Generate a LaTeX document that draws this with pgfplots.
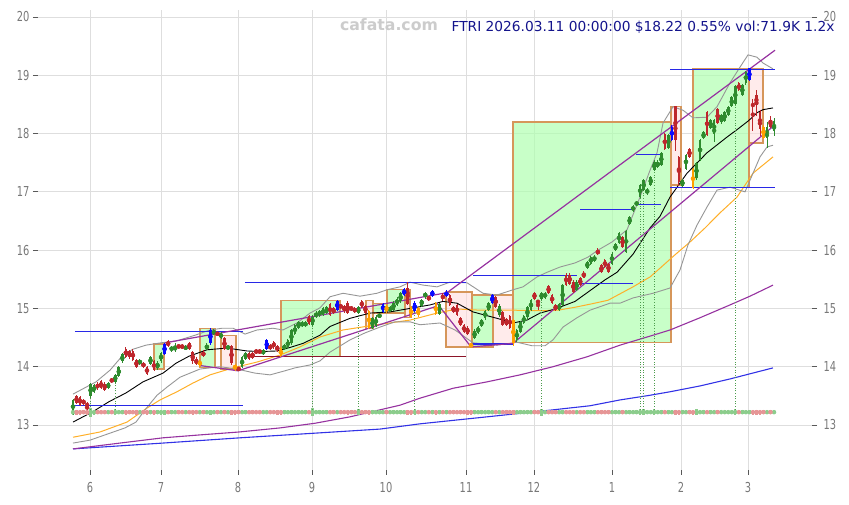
\documentclass[border=0pt]{standalone}
\usepackage{fontspec}
\setmainfont{DejaVu Sans}
\newfontfamily\tickfont[FakeStretch=0.72]{DejaVu Sans}
\usepackage{pgfplots}
\usepackage{pgfplotstable}
\pgfplotsset{compat=1.18}

\definecolor{cgreen}{RGB}{46,139,46}
\definecolor{cred}{RGB}{190,38,44}
\definecolor{cblue}{RGB}{10,10,255}
\definecolor{corange}{RGB}{255,160,0}
\definecolor{gfill}{RGB}{176,255,176}
\definecolor{pfill}{RGB}{255,218,218}
\definecolor{boxedge}{RGB}{214,150,90}
\definecolor{mapurple}{RGB}{150,50,160}
\definecolor{mablue}{RGB}{50,50,230}
\definecolor{maorange}{RGB}{255,175,40}
\definecolor{bandgray}{RGB}{150,150,150}
\definecolor{hblue}{RGB}{40,40,230}
\definecolor{hred}{RGB}{140,20,40}
\definecolor{titleblue}{RGB}{20,20,140}
\definecolor{gridgray}{RGB}{222,222,222}
\definecolor{labelgray}{RGB}{120,120,120}
\definecolor{volgreen}{RGB}{140,205,140}
\definecolor{volred}{RGB}{230,150,150}
\definecolor{volline}{RGB}{85,85,190}

\pgfplotstableread{
i o h l c k v
0 13.20 13.45 13.18 13.43 0 0.05
1 13.49 13.52 13.36 13.38 1 0.04
2 13.48 13.50 13.32 13.34 1 0.04
3 13.43 13.45 13.34 13.36 1 0.03
4 13.38 13.40 13.20 13.31 1 0.04
5 13.49 13.72 13.47 13.70 0 0.08
6 13.57 13.70 13.55 13.68 0 0.04
7 13.71 13.74 13.60 13.63 1 0.03
8 13.76 13.78 13.61 13.63 1 0.03
9 13.71 13.73 13.58 13.60 1 0.03
10 13.63 13.74 13.61 13.72 0 0.03
11 13.79 13.81 13.72 13.74 1 0.03
12 13.74 13.88 13.72 13.86 0 0.05
13 13.84 14.01 13.82 13.99 0 0.03
14 14.09 14.23 14.07 14.21 0 0.03
15 14.31 14.33 14.15 14.17 1 0.04
16 14.27 14.29 14.14 14.16 1 0.03
17 14.27 14.30 14.10 14.12 1 0.03
18 14.12 14.14 13.97 13.99 1 0.04
19 14.05 14.13 14.03 14.11 0 0.03
20 14.06 14.08 13.98 14.00 1 0.03
21 13.99 14.01 13.86 13.88 1 0.04
22 14.05 14.18 14.03 14.16 0 0.03
23 14.09 14.11 13.93 13.95 1 0.04
24 13.97 14.09 13.95 14.07 0 0.03
25 14.09 14.26 14.07 14.24 0 0.04
26 14.22 14.41 14.20 14.39 2 0.04
27 14.44 14.46 14.33 14.35 1 0.03
28 14.30 14.36 14.26 14.32 0 0.03
29 14.30 14.40 14.26 14.33 0 0.03
30 14.36 14.38 14.32 14.33 1 0.03
31 14.37 14.39 14.30 14.32 1 0.03
32 14.30 14.37 14.28 14.35 0 0.03
33 14.41 14.43 14.28 14.30 1 0.03
34 14.25 14.27 14.05 14.09 1 0.04
35 14.13 14.16 14.03 14.05 1 0.03
36 14.02 14.12 14.00 14.10 3 0.03
37 14.26 14.28 14.16 14.18 1 0.03
38 14.30 14.40 14.28 14.38 0 0.03
39 14.40 14.66 14.38 14.63 2 0.04
40 14.56 14.64 14.54 14.62 0 0.03
41 14.58 14.60 14.53 14.55 1 0.03
42 14.50 14.59 14.48 14.57 0 0.03
43 14.49 14.51 14.28 14.30 1 0.03
44 14.30 14.38 14.28 14.36 0 0.03
45 14.35 14.37 14.03 14.06 1 0.04
46 14.02 14.05 13.93 13.97 3 0.04
47 13.98 14.00 13.92 13.95 1 0.03
48 14.00 14.18 13.98 14.16 0 0.03
49 14.14 14.26 14.12 14.24 0 0.03
50 14.24 14.26 14.12 14.14 1 0.03
51 14.24 14.26 14.13 14.15 1 0.03
52 14.29 14.31 14.21 14.23 1 0.03
53 14.28 14.30 14.22 14.24 1 0.03
54 14.22 14.30 14.20 14.28 0 0.03
55 14.31 14.47 14.29 14.45 2 0.03
56 14.37 14.39 14.28 14.30 1 0.03
57 14.42 14.44 14.31 14.33 1 0.03
58 14.35 14.37 14.26 14.28 1 0.04
59 14.32 14.34 14.16 14.18 3 0.04
60 14.30 14.39 14.28 14.37 0 0.03
61 14.33 14.48 14.31 14.46 0 0.03
62 14.40 14.65 14.38 14.63 0 0.03
63 14.56 14.73 14.54 14.71 0 0.03
64 14.66 14.79 14.64 14.77 0 0.03
65 14.70 14.78 14.68 14.76 0 0.03
66 14.70 14.78 14.68 14.76 0 0.03
67 14.87 14.89 14.71 14.73 1 0.03
68 14.72 14.88 14.70 14.86 0 0.07
69 14.85 14.95 14.83 14.93 0 0.03
70 14.88 14.97 14.86 14.95 0 0.03
71 14.89 15.02 14.87 15.00 0 0.03
72 14.92 15.04 14.90 15.02 0 0.03
73 15.07 15.09 14.87 14.89 1 0.03
74 15.00 15.02 14.90 14.92 1 0.03
75 14.98 15.15 14.96 15.13 2 0.03
76 15.05 15.07 15.00 15.02 1 0.03
77 15.04 15.06 14.93 14.95 1 0.03
78 15.10 15.12 14.90 14.92 1 0.04
79 15.02 15.04 14.96 14.98 1 0.03
80 15.00 15.02 14.92 14.94 1 0.03
81 14.92 15.04 14.90 15.02 0 0.05
82 15.12 15.14 15.01 15.03 1 0.03
83 15.04 15.06 14.91 14.93 1 0.03
84 14.95 14.97 14.64 14.66 3 0.04
85 14.66 14.85 14.64 14.83 0 0.03
86 14.70 14.88 14.68 14.86 0 0.03
87 14.85 14.92 14.83 14.90 0 0.03
88 14.94 15.10 14.92 15.08 2 0.03
89 15.05 15.07 14.93 14.95 3 0.03
90 14.96 15.04 14.94 15.02 0 0.03
91 14.98 15.12 14.96 15.10 0 0.03
92 15.06 15.19 15.04 15.17 0 0.03
93 15.12 15.28 15.10 15.26 0 0.03
94 15.23 15.35 15.21 15.33 2 0.03
95 15.35 15.46 15.06 15.08 1 0.04
96 15.03 15.05 14.84 14.86 3 0.04
97 14.96 15.12 14.94 15.10 2 0.05
98 15.00 15.02 14.86 14.88 3 0.03
99 15.05 15.17 15.03 15.15 0 0.03
100 15.19 15.29 15.17 15.27 0 0.03
101 15.20 15.22 15.13 15.15 1 0.03
102 15.21 15.32 15.19 15.30 2 0.03
103 15.09 15.11 14.88 14.90 3 0.04
104 14.90 15.10 14.88 15.08 0 0.03
105 15.22 15.26 15.13 15.18 1 0.03
106 15.21 15.31 15.19 15.29 2 0.03
107 15.23 15.25 15.04 15.06 1 0.03
108 15.03 15.05 14.92 14.94 1 0.03
109 15.06 15.08 14.87 14.89 1 0.03
110 14.83 14.85 14.69 14.71 1 0.03
111 14.71 14.73 14.58 14.60 1 0.03
112 14.67 14.69 14.54 14.56 1 0.04
113 14.39 14.41 14.33 14.34 3 0.04
114 14.49 14.64 14.47 14.62 0 0.03
115 14.58 14.70 14.56 14.68 0 0.03
116 14.70 14.82 14.68 14.80 0 0.03
117 14.83 14.98 14.81 14.96 0 0.03
118 14.97 15.11 14.95 15.09 0 0.03
119 15.09 15.25 15.07 15.23 2 0.03
120 15.20 15.22 15.01 15.03 1 0.03
121 14.88 15.07 14.86 15.05 0 0.03
122 14.94 14.96 14.69 14.71 1 0.03
123 14.82 14.84 14.69 14.71 1 0.03
124 14.87 14.89 14.64 14.66 1 0.03
125 14.80 14.82 14.36 14.40 3 0.04
126 14.45 14.65 14.43 14.63 0 0.03
127 14.60 14.79 14.58 14.77 0 0.03
128 14.75 14.89 14.73 14.87 0 0.03
129 14.85 15.05 14.80 15.03 0 0.03
130 14.97 15.16 14.95 15.15 0 0.03
131 15.26 15.28 15.15 15.17 1 0.03
132 15.14 15.15 14.97 15.09 1 0.03
133 15.17 15.28 15.15 15.26 0 0.06
134 15.18 15.29 15.16 15.27 0 0.03
135 15.39 15.41 15.24 15.26 1 0.03
136 15.23 15.25 15.07 15.09 1 0.03
137 15.06 15.08 14.95 14.97 1 0.03
138 14.97 15.09 14.95 15.07 0 0.03
139 15.06 15.42 15.04 15.40 0 0.03
140 15.58 15.60 15.38 15.40 1 0.03
141 15.58 15.60 15.40 15.42 1 0.03
142 15.46 15.48 15.27 15.29 1 0.03
143 15.32 15.48 15.30 15.46 0 0.03
144 15.52 15.54 15.38 15.40 1 0.03
145 15.61 15.64 15.52 15.53 1 0.03
146 15.69 15.82 15.67 15.80 0 0.03
147 15.77 15.90 15.75 15.88 0 0.03
148 15.82 15.91 15.80 15.89 0 0.03
149 16.00 16.03 15.91 15.93 1 0.03
150 15.74 15.76 15.60 15.62 1 0.03
151 15.83 15.85 15.69 15.71 1 0.03
152 15.76 15.78 15.61 15.63 1 0.03
153 15.77 15.96 15.75 15.94 0 0.03
154 16.00 16.12 15.98 16.10 0 0.03
155 16.13 16.31 16.11 16.29 0 0.03
156 16.23 16.25 16.03 16.05 1 0.03
157 15.97 16.35 15.95 16.33 0 0.03
158 16.45 16.58 16.43 16.56 0 0.03
159 16.68 16.77 16.66 16.75 0 0.03
160 16.77 16.85 16.75 16.83 0 0.03
161 16.92 17.14 16.90 17.12 0 0.05
162 17.03 17.22 17.01 17.20 0 0.05
163 16.98 17.06 16.95 17.04 0 0.03
164 17.12 17.27 17.10 17.25 0 0.03
165 17.37 17.54 17.35 17.52 0 0.05
166 17.43 17.54 17.41 17.52 0 0.03
167 17.46 17.68 17.44 17.66 0 0.03
168 17.99 18.01 17.71 17.73 1 0.03
169 17.75 17.99 17.73 17.97 0 0.03
170 17.89 18.14 17.87 18.12 2 0.03
171 18.47 18.48 17.70 17.89 1 0.04
172 17.60 17.62 17.10 17.17 1 0.04
173 17.10 17.22 17.08 17.20 0 0.03
174 17.40 17.65 17.38 17.63 0 0.03
175 17.73 17.75 17.58 17.60 1 0.03
176 17.39 17.41 17.05 17.06 3 0.04
177 17.23 17.51 17.21 17.49 0 0.05
178 17.55 17.91 17.53 17.89 0 0.03
179 17.92 18.04 17.90 18.02 0 0.03
180 18.37 18.39 17.95 17.97 1 0.03
181 18.09 18.25 18.07 18.23 0 0.03
182 18.00 18.25 17.85 18.23 0 0.03
183 18.42 18.44 18.16 18.18 1 0.03
184 18.19 18.34 18.17 18.32 0 0.03
185 18.22 18.39 18.20 18.37 0 0.03
186 18.32 18.48 18.30 18.46 0 0.03
187 18.47 18.64 18.45 18.62 0 0.03
188 18.51 18.83 18.49 18.81 0 0.05
189 18.86 18.88 18.73 18.75 1 0.03
190 18.66 18.85 18.64 18.83 0 0.03
191 18.86 19.08 18.84 19.06 0 0.03
192 18.92 19.13 18.90 19.12 2 0.03
193 18.52 18.60 18.05 18.46 1 0.04
194 18.66 18.75 18.30 18.49 1 0.04
195 18.37 18.40 17.95 18.08 1 0.04
196 18.12 18.14 17.91 17.93 3 0.03
197 17.93 18.20 17.75 18.12 0 0.03
198 18.23 18.30 18.10 18.12 1 0.03
199 18.04 18.26 17.95 18.22 0 0.03
}\candles

\pgfplotsset{
  cdl/.style n args={3}{only marks, mark=none, forget plot, color=#1,
    restrict expr to domain={\thisrow{k}}{#2},
    error bars/.cd, y dir=both, y explicit, error mark=none,
    error bar style={line width=#3}},
  vol/.style n args={2}{only marks, mark=none, forget plot, color=#1,
    restrict expr to domain={\thisrow{c}-\thisrow{o}}{#2},
    error bars/.cd, y dir=both, y explicit, error mark=none,
    error bar style={line width=2.4pt}},
  gbox/.style={fill=gfill, fill opacity=0.7, draw=boxedge, line width=1.3pt, forget plot},
  pbox/.style={fill=pfill, fill opacity=0.55, draw=boxedge, line width=1.3pt, forget plot},
  hl/.style={color=#1, line width=1.1pt, forget plot},
  dl/.style={color=cgreen!85, line width=0.8pt, dash pattern=on 1pt off 1.6pt, forget plot},
  common/.style={at={(38pt,35pt)}, anchor=south west,
    width=774pt, height=460pt, scale only axis,
    xmin=-10, xmax=211.14, ymin=12.228, ymax=20.12,
    axis line style={draw=none},
    ytick={13,14,15,16,17,18,19,20},
    tick align=outside, major tick length=5pt,
    tick style={draw=black!65, line width=0.9pt},
    tick label style={font=\tickfont\fontsize{13.7}{14}\selectfont, text=labelgray},
    /pgf/number format/assume math mode=true},
}

\begin{document}
\begin{tikzpicture}
\useasboundingbox (0pt,0pt) rectangle (849pt,505pt);
\begin{axis}[common,
  xtick={4.86,25.14,47.14,68.29,89.43,112.29,131.71,154,173.71,192.86},
  xticklabels={6,7,8,9,10,11,12,1,2,3},
  xticklabel style={yshift=-4pt},
  xtick pos=bottom, ytick pos=left,
  grid=major, major grid style={draw=gridgray, line width=0.9pt}]

% boxes
\addplot[gbox] coordinates {(23.14,13.96) (26,13.96) (26,14.39) (23.14,14.39)} --cycle;
\addplot[gbox] coordinates {(36.29,13.99) (40.57,13.99) (40.57,14.66) (36.29,14.66)} --cycle;
\addplot[pbox] coordinates {(42.29,13.96) (46.57,13.96) (46.57,14.54) (42.29,14.54)} --cycle;
\addplot[gbox] coordinates {(59.43,14.18) (76.29,14.18) (76.29,15.13) (59.43,15.13)} --cycle;
\addplot[pbox] coordinates {(83.71,14.66) (85.71,14.66) (85.71,15.14) (83.71,15.14)} --cycle;
\addplot[gbox] coordinates {(85.71,14.92) (89.71,14.92) (89.71,15.09) (85.71,15.09)} --cycle;
\addplot[gbox] coordinates {(89.71,14.92) (94.86,14.92) (94.86,15.33) (89.71,15.33)} --cycle;
\addplot[pbox] coordinates {(94.86,14.84) (96.29,14.84) (96.29,15.33) (94.86,15.33)} --cycle;
\addplot[pbox] coordinates {(106.57,14.34) (114,14.34) (114,15.28) (106.57,15.28)} --cycle;
\addplot[gbox] coordinates {(114,14.34) (120,14.34) (120,15.23) (114,15.23)} --cycle;
\addplot[pbox] coordinates {(120,14.39) (125.71,14.39) (125.71,15.23) (120,15.23)} --cycle;
\addplot[gbox] coordinates {(125.71,14.41) (170.86,14.41) (170.86,18.20) (125.71,18.20)} --cycle;
\addplot[pbox] coordinates {(170.86,17.12) (173.71,17.12) (173.71,18.46) (170.86,18.46)} --cycle;
\addplot[gbox] coordinates {(177.14,17.08) (193.14,17.08) (193.14,19.12) (177.14,19.12)} --cycle;
\addplot[pbox] coordinates {(193.14,17.84) (197.14,17.84) (197.14,19.12) (193.14,19.12)} --cycle;

% long moving averages
\addplot[mablue, line width=1.1pt, forget plot] coordinates {(0,12.59) (25.71,12.69) (47.71,12.78) (69.14,12.86) (87.71,12.93) (99.14,13.02) (118.29,13.14) (137.14,13.26) (147.71,13.33) (156.29,13.43) (164.86,13.51) (170.57,13.57) (179.14,13.67) (187.71,13.79) (200,13.98)};
\addplot[mapurple, line width=1.1pt, forget plot] coordinates {(0,12.59) (13.43,12.69) (25.71,12.78) (36.29,12.83) (47.43,12.88) (59.14,12.95) (69.14,13.03) (79.14,13.14) (87.71,13.26) (93.43,13.34) (99.14,13.46) (108.57,13.63) (118.29,13.74) (127.71,13.86) (137.14,14.00) (146.86,14.17) (156.29,14.37) (165.71,14.54) (170.57,14.63) (179.14,14.84) (187.71,15.06) (193.43,15.21) (200,15.40)};
\addplot[maorange, line width=1pt, forget plot] coordinates {(0,12.79) (7.71,12.88) (15.43,13.05) (21.14,13.29) (24.86,13.43) (29.71,13.57) (34.29,13.72) (39.14,13.86) (45.71,13.98) (52.57,14.08) (59.14,14.20) (64.86,14.34) (70.57,14.51) (77.14,14.63) (86.86,14.72) (96.29,14.80) (104,14.92) (109.71,14.99) (116.29,14.97) (125.71,14.97) (133.43,14.96) (138.57,14.97) (143.43,15.02) (148.29,15.08) (152.86,15.14) (160,15.37) (164.86,15.54) (167.71,15.69) (172,15.92) (176.29,16.14) (180.57,16.38) (184.86,16.64) (189.71,16.91) (194.29,17.32) (200,17.60)};

% bollinger bands
\addplot[bandgray, line width=0.9pt, forget plot] coordinates {(0,13.53) (6.57,13.74) (10.57,13.94) (14.29,14.20) (17.14,14.30) (20.86,14.37) (25.14,14.41) (29.43,14.44) (34.86,14.54) (39.14,14.63) (42.57,14.66) (45.71,14.66) (49.14,14.56) (52.57,14.63) (57.14,14.66) (60,14.63) (64,14.75) (67.71,14.92) (70.57,15.01) (73.43,15.20) (77.14,15.26) (82,15.21) (86.86,15.26) (89.71,15.32) (93.43,15.37) (96.29,15.45) (100,15.40) (104,15.37) (107.71,15.45) (112.57,15.44) (117.14,15.26) (121.14,15.23) (125.71,15.32) (128.57,15.37) (132.57,15.54) (135.43,15.62) (139.14,15.71) (143.43,15.78) (147.14,15.88) (150,16.00) (154,16.14) (158.29,16.35) (162,16.91) (164.86,17.37) (166.86,17.67) (168.57,18.18) (171.43,18.46) (174.29,18.40) (177.14,18.27) (181.14,18.28) (184,18.46) (187.71,18.87) (190.57,19.14) (192.86,19.35) (195.43,19.31) (197.14,19.21) (200,19.11)};
\addplot[bandgray, line width=0.9pt, forget plot] coordinates {(0,12.69) (4.86,12.74) (10.57,12.86) (14.86,12.95) (18,13.05) (20.57,13.26) (24,13.51) (26.86,13.65) (30.57,13.82) (36.29,13.96) (42,14.00) (46.86,13.96) (52,13.89) (56.29,13.86) (60.57,13.93) (63.43,13.98) (67.71,14.03) (70.57,14.10) (73.43,14.25) (79.14,14.46) (83.43,14.58) (87.71,14.68) (92,14.77) (96.29,14.77) (99.14,14.72) (104.86,14.75) (109.14,14.63) (114.29,14.41) (121.14,14.37) (126.86,14.42) (131.14,14.36) (134.86,14.36) (137.14,14.46) (140,14.68) (144,14.84) (147.71,14.97) (153.43,15.09) (156.29,15.09) (160,15.18) (165.71,15.26) (170.57,15.35) (173.43,15.66) (175.71,16.09) (178.29,16.43) (181.14,16.74) (184,17.03) (187.71,17.08) (192,17.00) (194.29,17.32) (196.29,17.60) (198.29,17.77) (200,17.80)};
\addplot[black, line width=0.9pt, forget plot] coordinates {(0,13.05) (5.71,13.23) (10.29,13.40) (15.14,13.55) (20,13.74) (25.71,13.89) (29.43,14.06) (33.14,14.18) (38.29,14.29) (44,14.32) (49.71,14.27) (53.43,14.26) (58.29,14.27) (62,14.33) (65.71,14.40) (70.57,14.54) (73.43,14.69) (79.14,14.83) (84.86,14.92) (90.57,14.94) (96.29,15.00) (102,15.06) (105.71,15.12) (109.71,15.09) (114.29,14.94) (121.14,14.83) (125.71,14.75) (129.71,14.80) (133.43,14.92) (137.71,14.99) (143.43,15.12) (148.29,15.33) (152,15.49) (155.43,15.62) (160,15.93) (164.86,16.38) (167.71,16.58) (170.57,16.91) (175.43,17.32) (181.14,17.67) (186.86,17.94) (190,18.08) (193,18.22) (195.5,18.36) (197.14,18.41) (200,18.44)};

% horizontal levels
\addplot[hl=hblue] coordinates {(0.57,14.60) (48.57,14.60)};
\addplot[hl=hblue] coordinates {(0.57,13.34) (48.57,13.34)};
\addplot[hl=hblue] coordinates {(49.14,15.44) (112.29,15.44)};
\addplot[hl=hred] coordinates {(49.14,14.17) (112.29,14.17)};
\addplot[hl=hblue] coordinates {(114.29,15.57) (144,15.57)};
\addplot[hl=hblue] coordinates {(114,14.39) (125.71,14.39)};
\addplot[hl=hblue] coordinates {(144.86,15.43) (160,15.43)};
\addplot[hl=hblue] coordinates {(144.86,16.70) (160,16.70)};
\addplot[hl=hblue] coordinates {(160.86,16.79) (168,16.79)};
\addplot[hl=hblue] coordinates {(160.86,17.64) (168,17.64)};
\addplot[hl=hblue] coordinates {(170.57,19.10) (200.57,19.10)};
\addplot[hl=hblue] coordinates {(170.57,17.08) (200.57,17.08)};

% channel lines
\addplot[mapurple, line width=1.2pt, forget plot] coordinates {(26.29,14.41) (106.86,15.27)};
\addplot[mapurple, line width=1.2pt, forget plot] coordinates {(106.86,15.27) (200.57,19.43)};
\addplot[mapurple, line width=1.2pt, forget plot] coordinates {(36.29,14.02) (47.14,13.93) (104,15.04)};
\addplot[mapurple, line width=1.2pt, forget plot] coordinates {(104,15.09) (113.71,14.34) (125.71,14.40) (200.57,18.15)};

% volume
\addplot[volline, line width=2.2pt, forget plot] coordinates {(0,13.22) (200.86,13.22)};
\addplot[vol={volgreen}{0:10}] table[x expr=\thisrow{i}*1.0065, y expr=13.22, y error expr=\thisrow{v}] {\candles};
\addplot[vol={volred}{-10:-0.0001}] table[x expr=\thisrow{i}*1.0065, y expr=13.22, y error expr=\thisrow{v}] {\candles};

% dotted markers
\addplot[dl] coordinates {(5.03,13.22) (5.03,13.47)};
\addplot[dl] coordinates {(12.08,13.22) (12.08,13.72)};
\addplot[dl] coordinates {(68.44,13.22) (68.44,14.70)};
\addplot[dl] coordinates {(81.53,13.22) (81.53,14.90)};
\addplot[dl] coordinates {(97.63,13.22) (97.63,14.94)};
\addplot[dl] coordinates {(133.86,13.22) (133.86,15.15)};
\addplot[dl] coordinates {(162.05,13.22) (162.05,16.90)};
\addplot[dl] coordinates {(163.05,13.22) (163.05,17.01)};
\addplot[dl] coordinates {(166.07,13.22) (166.07,17.35)};
\addplot[dl] coordinates {(189.22,13.22) (189.22,18.49)};

% candles: wicks
\addplot[cdl={cgreen}{-0.5:0.5}{0.9pt}] table[x expr=\thisrow{i}*1.0065, y expr=(\thisrow{h}+\thisrow{l})/2, y error expr=(\thisrow{h}-\thisrow{l})/2] {\candles};
\addplot[cdl={cred}{0.5:1.5}{0.9pt}] table[x expr=\thisrow{i}*1.0065, y expr=(\thisrow{h}+\thisrow{l})/2, y error expr=(\thisrow{h}-\thisrow{l})/2] {\candles};
\addplot[cdl={cblue}{1.5:2.5}{0.9pt}] table[x expr=\thisrow{i}*1.0065, y expr=(\thisrow{h}+\thisrow{l})/2, y error expr=(\thisrow{h}-\thisrow{l})/2] {\candles};
\addplot[cdl={corange}{2.5:3.5}{0.9pt}] table[x expr=\thisrow{i}*1.0065, y expr=(\thisrow{h}+\thisrow{l})/2, y error expr=(\thisrow{h}-\thisrow{l})/2] {\candles};
% candles: bodies
\addplot[cdl={cgreen}{-0.5:0.5}{2.6pt}] table[x expr=\thisrow{i}*1.0065, y expr=(\thisrow{o}+\thisrow{c})/2, y error expr={max(abs(\thisrow{o}-\thisrow{c})/2,0.012)}] {\candles};
\addplot[cdl={cred}{0.5:1.5}{2.6pt}] table[x expr=\thisrow{i}*1.0065, y expr=(\thisrow{o}+\thisrow{c})/2, y error expr={max(abs(\thisrow{o}-\thisrow{c})/2,0.012)}] {\candles};
\addplot[cdl={cblue}{1.5:2.5}{2.6pt}] table[x expr=\thisrow{i}*1.0065, y expr=(\thisrow{o}+\thisrow{c})/2, y error expr={max(abs(\thisrow{o}-\thisrow{c})/2,0.012)}] {\candles};
\addplot[cdl={corange}{2.5:3.5}{2.6pt}] table[x expr=\thisrow{i}*1.0065, y expr=(\thisrow{o}+\thisrow{c})/2, y error expr={max(abs(\thisrow{o}-\thisrow{c})/2,0.012)}] {\candles};
\end{axis}

\begin{axis}[common, xtick=\empty, ytick pos=right, yticklabel pos=right,
  yticklabel style={xshift=3pt}]
\end{axis}

\node[anchor=base, text=black!20, font=\bfseries\fontsize{15.7}{16}\selectfont] at (389pt,474pt) {cafata.com};
\node[anchor=base east, text=titleblue, font=\fontsize{13.75}{14}\selectfont] at (838pt,473pt) {FTRI 2026.03.11 00:00:00 \$18.22 0.55\% vol:71.9K 1.2x};
\end{tikzpicture}
\end{document}
